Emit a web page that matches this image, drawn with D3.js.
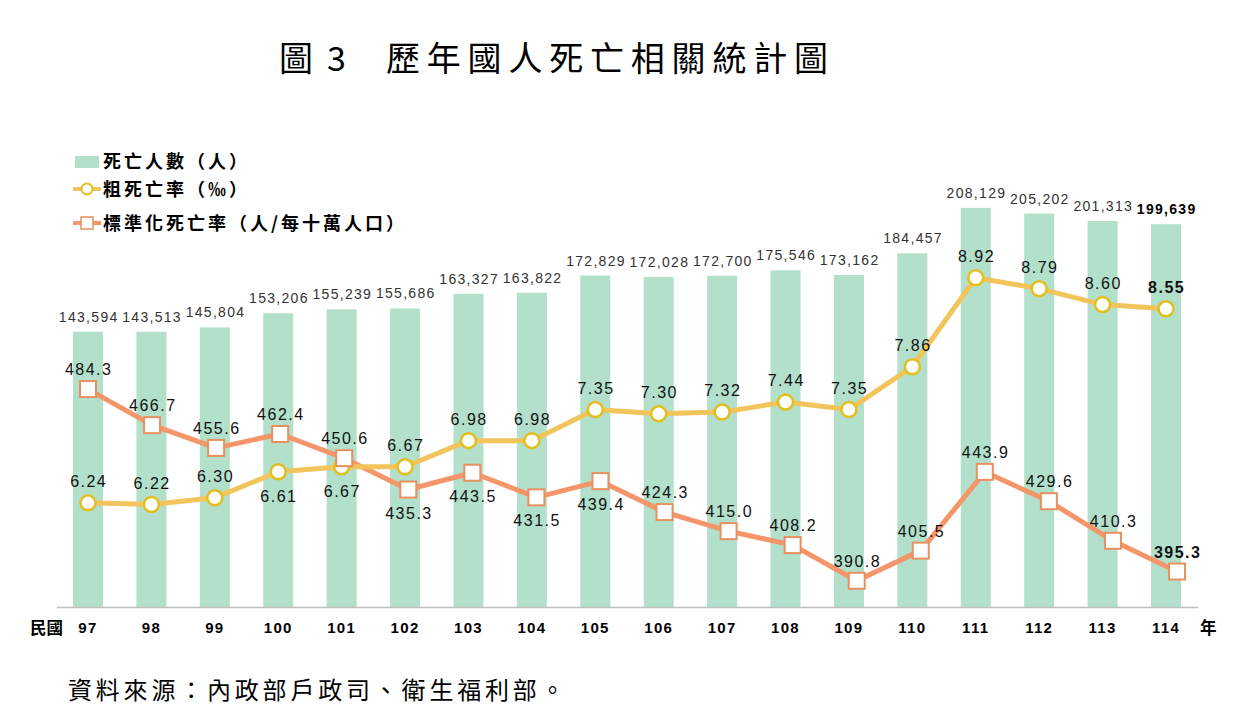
<!DOCTYPE html>
<html>
<head>
<meta charset="utf-8">
<script src="https://cdn.jsdelivr.net/npm/d3@7"></script>
<style>
  body { margin: 0; background: #fff; }
  svg { display: block; }
  .eje text { font-family: Arial, "Liberation Sans", sans-serif; font-size: 15px; font-weight: bold; fill: #000; letter-spacing: 1.3px; }
</style>
</head>
<body>
<div id="graf"></div>
<script>
// datos del grafico
years  = ['97','98','99','100','101','102','103','104','105','106','107','108','109','110','111','112','113','114']
deaths = [143594,143513,145804,153206,155239,155686,163327,163822,172829,172028,172700,175546,173162,184457,208129,205202,201313,199639]
crude  = [6.24,6.22,6.30,6.61,6.67,6.67,6.98,6.98,7.35,7.30,7.32,7.44,7.35,7.86,8.92,8.79,8.60,8.55]
crudeTxt = ['6.24','6.22','6.30','6.61','6.67','6.67','6.98','6.98','7.35','7.30','7.32','7.44','7.35','7.86','8.92','8.79','8.60','8.55']
stdRate = [484.3,466.7,455.6,462.4,450.6,435.3,443.5,431.5,439.4,424.3,415.0,408.2,390.8,405.5,443.9,429.6,410.3,395.3]
crudeBelow = ['100','101']
stdBelow   = ['102','103','104','105']

ancho_total = 1246
alto_total  = 720

svg = d3.select('#graf').append('svg')
        .attr('width', ancho_total)
        .attr('height', alto_total)

// escalas
x = d3.scaleBand()
      .domain(years)
      .range([56.3, 1197.7])
      .paddingInner(0.527)
      .paddingOuter(0.2635)
xStd = d3.scalePoint()
      .domain(years)
      .range([88, 1177])
yBar = d3.scaleLinear().domain([0, 250000]).range([607, 127.6])
yCrude = d3.scaleLinear().domain([5, 10]).range([607, 187])
yStd = d3.scaleLinear().domain([378, 500]).range([607, 356.9])

cx = d => x(d) + x.bandwidth() / 2

// titulo
titFont = '"Noto Sans CJK TC", sans-serif'
svg.append('text')
   .attr('x', 279).attr('y', 71)
   .style('font-family', titFont).style('font-size', '34px')
   .text('圖')
svg.append('text')
   .attr('x', 327).attr('y', 71)
   .style('font-family', titFont).style('font-size', '34px')
   .text('3')
svg.append('text')
   .attr('x', 386).attr('y', 71)
   .style('font-family', titFont)
   .style('font-size', '34px')
   .style('letter-spacing', '6.8px')
   .text('歷年國人死亡相關統計圖')

// barras
barData = years.map((y, i) => ({ year: y, v: deaths[i] }))
svg.selectAll('rect.bar')
   .data(barData)
   .enter().append('rect')
   .attr('class', 'bar')
   .attr('x', d => x(d.year))
   .attr('y', d => yBar(d.v))
   .attr('width', x.bandwidth())
   .attr('height', d => yBar(0) - yBar(d.v))
   .attr('fill', '#b2e0ca')

svg.selectAll('text.barlab')
   .data(barData)
   .enter().append('text')
   .attr('class', 'barlab')
   .attr('x', d => cx(d.year) + 0.7)
   .attr('y', d => yBar(d.v) - 10)
   .attr('text-anchor', 'middle')
   .style('font-family', 'Arial, "Liberation Sans", sans-serif')
   .style('font-size', '14px')
   .style('letter-spacing', '1.3px')
   .style('font-weight', d => d.year == '114' ? 'bold' : 'normal')
   .style('fill', d => d.year == '114' ? '#000' : '#333')
   .text(d => d3.format(',')(d.v))

// eje x
xAxisGroup = svg.append('g')
   .attr('class', 'eje')
   .attr('transform', 'translate(0, 607)')
   .call(d3.axisBottom(x).tickSize(0).tickSizeOuter(0).tickPadding(15.5))
xAxisGroup.select('.domain').attr('stroke', '#bfbfbf').attr('stroke-width', 1.5)

svg.append('text')
   .attr('x', 30).attr('y', 634)
   .style('font-family', titFont)
   .style('font-size', '16.5px').style('font-weight', 'bold')
   .text('民國')
svg.append('text')
   .attr('x', 1200).attr('y', 634)
   .style('font-family', titFont)
   .style('font-size', '16.5px').style('font-weight', 'bold')
   .text('年')

// linea tasa estandarizada
stdData = years.map((y, i) => ({ year: y, v: stdRate[i] }))
svg.append('path')
   .datum(stdData)
   .attr('fill', 'none')
   .attr('stroke', '#f4956a')
   .attr('stroke-width', 5)
   .attr('stroke-linejoin', 'round')
   .attr('d', d3.line().x(d => xStd(d.year)).y(d => yStd(d.v)))

// linea tasa bruta
crudeData = years.map((y, i) => ({ year: y, v: crude[i], t: crudeTxt[i] }))
svg.append('path')
   .datum(crudeData)
   .attr('fill', 'none')
   .attr('stroke', '#f2c45c')
   .attr('stroke-width', 5)
   .attr('stroke-linejoin', 'round')
   .attr('d', d3.line().x(d => cx(d.year)).y(d => yCrude(d.v)))

svg.selectAll('circle.crude')
   .data(crudeData)
   .enter().append('circle')
   .attr('class', 'crude')
   .attr('cx', d => cx(d.year))
   .attr('cy', d => yCrude(d.v))
   .attr('r', 7.5)
   .attr('fill', '#fff')
   .attr('stroke', '#e2be1e')
   .attr('stroke-width', 2.5)

svg.selectAll('rect.std')
   .data(stdData)
   .enter().append('rect')
   .attr('class', 'std')
   .attr('x', d => xStd(d.year) - 8)
   .attr('y', d => yStd(d.v) - 8)
   .attr('width', 16)
   .attr('height', 16)
   .attr('fill', '#fff')
   .attr('stroke', '#e8905e')
   .attr('stroke-width', 2)

// etiquetas
labelFont = 'Arial, "Liberation Sans", sans-serif'
svg.selectAll('text.crudelab')
   .data(crudeData)
   .enter().append('text')
   .attr('class', 'crudelab')
   .attr('x', d => cx(d.year) + 0.7)
   .attr('y', d => crudeBelow.includes(d.year) ? yCrude(d.v) + 30 : yCrude(d.v) - 16)
   .attr('text-anchor', 'middle')
   .style('font-family', labelFont)
   .style('font-size', '16px')
   .style('letter-spacing', '1.5px')
   .style('font-weight', d => d.year == '114' ? 'bold' : 'normal')
   .style('fill', '#111')
   .text(d => d.t)

svg.selectAll('text.stdlab')
   .data(stdData)
   .enter().append('text')
   .attr('class', 'stdlab')
   .attr('x', d => xStd(d.year) + 0.7)
   .attr('y', d => stdBelow.includes(d.year) ? yStd(d.v) + 29 : yStd(d.v) - 14)
   .attr('text-anchor', 'middle')
   .style('font-family', labelFont)
   .style('font-size', '16px')
   .style('letter-spacing', '1.5px')
   .style('font-weight', d => d.year == '114' ? 'bold' : 'normal')
   .style('fill', '#111')
   .text(d => d.v.toFixed(1))

// leyenda
leyenda = svg.append('g')
leyFont = '"Noto Sans CJK TC", sans-serif'
leyenda.append('rect')
   .attr('x', 75).attr('y', 156).attr('width', 24).attr('height', 12)
   .attr('fill', '#b2e0ca')
leyenda.append('text')
   .attr('x', 103).attr('y', 168)
   .style('font-family', leyFont).style('font-size', '18px').style('font-weight', 'bold')
   .style('letter-spacing', '3px')
   .text('死亡人數（人）')

leyenda.append('line')
   .attr('x1', 73).attr('x2', 101).attr('y1', 189).attr('y2', 189)
   .attr('stroke', '#f2c45c').attr('stroke-width', 4)
leyenda.append('circle')
   .attr('cx', 87).attr('cy', 189).attr('r', 5.5)
   .attr('fill', '#fff').attr('stroke', '#e2be1e').attr('stroke-width', 2)
leyenda.append('text')
   .attr('x', 103).attr('y', 196)
   .style('font-family', leyFont).style('font-size', '18px').style('font-weight', 'bold')
   .style('letter-spacing', '3px')
   .text('粗死亡率（‰）')

leyenda.append('line')
   .attr('x1', 73).attr('x2', 101).attr('y1', 223).attr('y2', 223)
   .attr('stroke', '#f4956a').attr('stroke-width', 4)
leyenda.append('rect')
   .attr('x', 81).attr('y', 217).attr('width', 12).attr('height', 12)
   .attr('fill', '#fff').attr('stroke', '#e8905e').attr('stroke-width', 1.5)
leyenda.append('text')
   .attr('x', 103).attr('y', 230)
   .style('font-family', leyFont).style('font-size', '18px').style('font-weight', 'bold')
   .style('letter-spacing', '3px')
   .text('標準化死亡率（人/每十萬人口）')

// fuente
svg.append('text')
   .attr('x', 68).attr('y', 699)
   .style('font-family', leyFont)
   .style('font-size', '24px')
   .style('letter-spacing', '3.8px')
   .text('資料來源：內政部戶政司、衛生福利部。')
</script>
</body>
</html>
